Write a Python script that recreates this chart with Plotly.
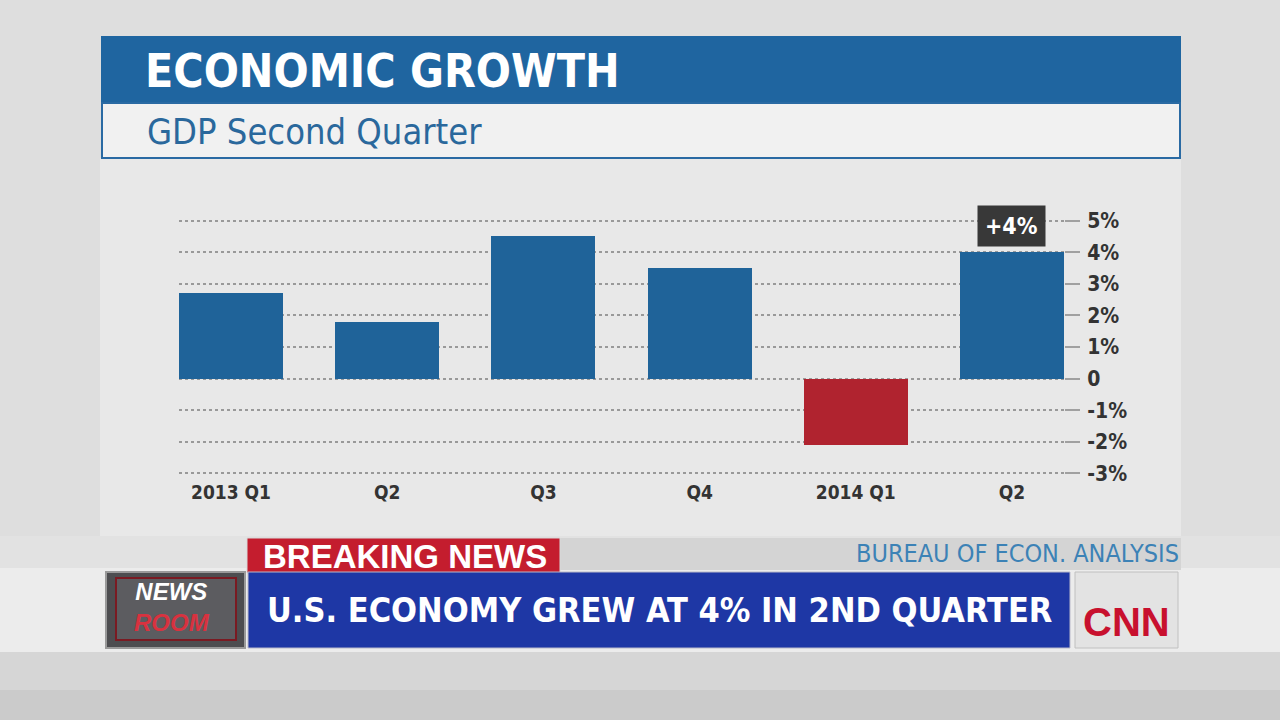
import plotly.graph_objects as go

# ---- data ----
quarters = ["2013 Q1", "Q2", "Q3", "Q4", "2014 Q1", "Q2"]
gdp_growth = [2.7, 1.8, 4.5, 3.5, -2.1, 4.0]
ytick_vals = [5, 4, 3, 2, 1, 0, -1, -2, -3]
ytick_text = ["5%", "4%", "3%", "2%", "1%", "0", "-1%", "-2%", "-3%"]
highlight_label = "+4%"

title_text = "ECONOMIC GROWTH"
subtitle_text = "GDP Second Quarter"
source_text = "BUREAU OF ECON. ANALYSIS"
breaking_text = "BREAKING NEWS"
headline_text = "U.S. ECONOMY GREW AT 4% IN 2ND QUARTER"

BLUE = "#1f6399"
RED = "#b0232f"
NARROW = "DejaVu Sans Condensed, Liberation Sans Narrow, Arial Narrow, sans-serif"
ARIAL = "Liberation Sans, Arial, sans-serif"

W, H = 1280, 720
ML, MR, MT, MB = 179, 216, 219, 245


def px(x):
    return (x - ML) / (W - ML - MR)


def py(y):
    return (H - MB - y) / (H - MT - MB)


xs = list(range(len(quarters)))
colors = [RED if v < 0 else BLUE for v in gdp_growth]

fig = go.Figure()
fig.add_trace(go.Bar(
    x=xs, y=gdp_growth, marker=dict(color=colors, line=dict(width=0)),
    width=0.665, hoverinfo="skip", showlegend=False,
))

shapes = []


def rect(x0, y0, x1, y1, fill, line_color=None, lw=0, layer="below"):
    shapes.append(dict(type="rect", xref="paper", yref="paper",
                       x0=px(x0), x1=px(x1), y0=py(y1), y1=py(y0),
                       fillcolor=fill, layer=layer,
                       line=dict(color=line_color or fill, width=lw)))


# background panels
rect(0, 0, 1280, 720, "#dedede")
rect(100, 158, 1181, 536, "#e8e8e8")
rect(0, 536, 1280, 570, "#e2e2e2")
rect(0, 568, 1280, 652, "#ececec")
rect(0, 652, 1280, 690, "#d6d6d6")
rect(0, 690, 1280, 720, "#cbcbcb")
# title blocks
rect(101, 36, 1181, 103, "#1f65a0", layer="above")
rect(102, 103, 1180, 158, "#f1f1f1", "#2a6aa3", 2, layer="above")
# ticker
rect(560, 538, 1181, 570, "#d4d4d4")
rect(247, 538, 560, 573, "#c41d2e", "#d8d8d8", 1, layer="above")
rect(248, 572, 1070, 648, "#1e37a5", "#b9b9c9", 1, layer="above")
rect(106, 572, 245, 648, "#4d4d50", "#9a9a9a", 2, layer="above")
rect(116, 578, 236, 640, "#5c5c60", "#7a1a22", 2, layer="above")
rect(1075, 572, 1178, 648, "#e3e3e3", "#c0c0c0", 1, layer="above")

annotations = []


def text(x, y, s, size, color, family=NARROW, weight="normal", xanchor="left",
         style="normal"):
    annotations.append(dict(xref="paper", yref="paper", x=px(x), y=py(y),
                            text=s, showarrow=False, xanchor=xanchor,
                            yanchor="middle",
                            font=dict(size=size, color=color, family=family,
                                      weight=weight, style=style)))


text(143, 71, title_text, 46, "white", weight="bold")
text(145, 131, subtitle_text, 36, "#2a689c")
text(1181, 553, source_text, 25, "#3c82b6", xanchor="right")
text(405, 556, breaking_text, 33, "white", family=ARIAL, weight="bold",
     xanchor="center")
text(659, 610, headline_text, 34, "white", weight="bold", xanchor="center")
annotations.append(dict(xref="paper", yref="paper", x=px(172), y=py(607),
                        text="NEWS<br><span style='color:#d8323f'>ROOM</span>",
                        showarrow=False, xanchor="center", yanchor="middle",
                        font=dict(size=24, color="white", family=ARIAL,
                                  weight="bold", style="italic")))
text(1126, 622, "CNN", 40, "#c8102e", family=ARIAL, weight="bold",
     xanchor="center")

# highlight label over last bar
annotations.append(dict(x=xs[-1], y=gdp_growth[-1], xref="x", yref="y",
                        text=highlight_label, showarrow=False, yshift=26,
                        bgcolor="#383838", borderpad=7,
                        font=dict(size=23, color="white", family=NARROW,
                                  weight="bold")))

fig.update_layout(
    width=W, height=H,
    margin=dict(l=ML, r=MR, t=MT, b=MB),
    paper_bgcolor="#dedede",
    plot_bgcolor="rgba(0,0,0,0)",
    shapes=shapes,
    annotations=annotations,
    bargap=0,
    xaxis=dict(range=[-0.333, 5.333], tickvals=xs, ticktext=quarters,
               showgrid=False, zeroline=False, showline=False, ticks="",
               tickfont=dict(size=19, color="#333333", family=NARROW,
                             weight="bold"), ticklabelstandoff=4,
               fixedrange=True),
    yaxis=dict(range=[-3.05, 5.05], side="right", tickvals=ytick_vals,
               ticktext=ytick_text, showgrid=True, gridcolor="#999999",
               gridwidth=2, griddash="dot", zeroline=False, showline=False,
               ticks="outside", ticklen=15, tickwidth=2, tickcolor="#a0a0a0",
               ticklabelstandoff=3,
               tickfont=dict(size=21, color="#333333", family=NARROW,
                             weight="bold"), fixedrange=True),
)

fig.write_html("out.html")
